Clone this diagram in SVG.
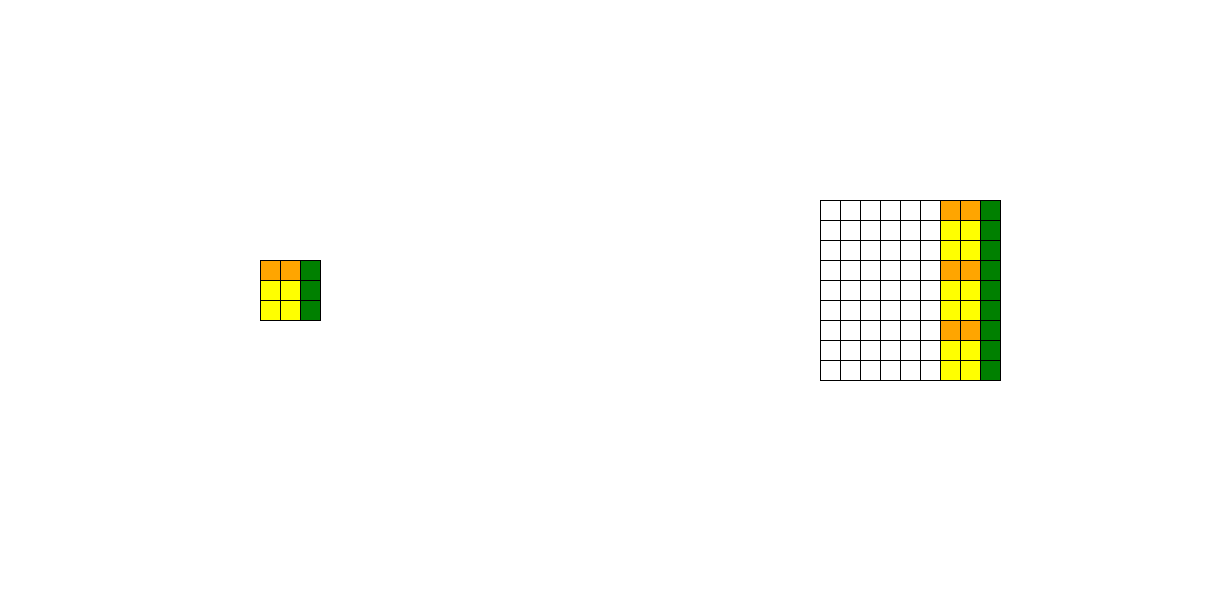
<svg xmlns="http://www.w3.org/2000/svg" width="1220" height="600" viewBox="0 0 1220 600">
<style>
rect.c{stroke:#000;stroke-width:1}
.w{fill:#fff}.o{fill:#ffa500}.y{fill:#ffff00}.g{fill:#008000}
</style>
<rect width="1220" height="600" fill="#fff"/>
<g id="small" transform="translate(260.5,260.5)">
<rect class="c o" x="0" y="0" width="20" height="20"/><rect class="c o" x="20" y="0" width="20" height="20"/><rect class="c g" x="40" y="0" width="20" height="20"/>
<rect class="c y" x="0" y="20" width="20" height="20"/><rect class="c y" x="20" y="20" width="20" height="20"/><rect class="c g" x="40" y="20" width="20" height="20"/>
<rect class="c y" x="0" y="40" width="20" height="20"/><rect class="c y" x="20" y="40" width="20" height="20"/><rect class="c g" x="40" y="40" width="20" height="20"/>
</g>
<g id="large" transform="translate(820.5,200.5)">
<g id="white">
<rect class="c w" x="0" y="0" width="20" height="20"/><rect class="c w" x="20" y="0" width="20" height="20"/><rect class="c w" x="40" y="0" width="20" height="20"/><rect class="c w" x="60" y="0" width="20" height="20"/><rect class="c w" x="80" y="0" width="20" height="20"/><rect class="c w" x="100" y="0" width="20" height="20"/>
<rect class="c w" x="0" y="20" width="20" height="20"/><rect class="c w" x="20" y="20" width="20" height="20"/><rect class="c w" x="40" y="20" width="20" height="20"/><rect class="c w" x="60" y="20" width="20" height="20"/><rect class="c w" x="80" y="20" width="20" height="20"/><rect class="c w" x="100" y="20" width="20" height="20"/>
<rect class="c w" x="0" y="40" width="20" height="20"/><rect class="c w" x="20" y="40" width="20" height="20"/><rect class="c w" x="40" y="40" width="20" height="20"/><rect class="c w" x="60" y="40" width="20" height="20"/><rect class="c w" x="80" y="40" width="20" height="20"/><rect class="c w" x="100" y="40" width="20" height="20"/>
<rect class="c w" x="0" y="60" width="20" height="20"/><rect class="c w" x="20" y="60" width="20" height="20"/><rect class="c w" x="40" y="60" width="20" height="20"/><rect class="c w" x="60" y="60" width="20" height="20"/><rect class="c w" x="80" y="60" width="20" height="20"/><rect class="c w" x="100" y="60" width="20" height="20"/>
<rect class="c w" x="0" y="80" width="20" height="20"/><rect class="c w" x="20" y="80" width="20" height="20"/><rect class="c w" x="40" y="80" width="20" height="20"/><rect class="c w" x="60" y="80" width="20" height="20"/><rect class="c w" x="80" y="80" width="20" height="20"/><rect class="c w" x="100" y="80" width="20" height="20"/>
<rect class="c w" x="0" y="100" width="20" height="20"/><rect class="c w" x="20" y="100" width="20" height="20"/><rect class="c w" x="40" y="100" width="20" height="20"/><rect class="c w" x="60" y="100" width="20" height="20"/><rect class="c w" x="80" y="100" width="20" height="20"/><rect class="c w" x="100" y="100" width="20" height="20"/>
<rect class="c w" x="0" y="120" width="20" height="20"/><rect class="c w" x="20" y="120" width="20" height="20"/><rect class="c w" x="40" y="120" width="20" height="20"/><rect class="c w" x="60" y="120" width="20" height="20"/><rect class="c w" x="80" y="120" width="20" height="20"/><rect class="c w" x="100" y="120" width="20" height="20"/>
<rect class="c w" x="0" y="140" width="20" height="20"/><rect class="c w" x="20" y="140" width="20" height="20"/><rect class="c w" x="40" y="140" width="20" height="20"/><rect class="c w" x="60" y="140" width="20" height="20"/><rect class="c w" x="80" y="140" width="20" height="20"/><rect class="c w" x="100" y="140" width="20" height="20"/>
<rect class="c w" x="0" y="160" width="20" height="20"/><rect class="c w" x="20" y="160" width="20" height="20"/><rect class="c w" x="40" y="160" width="20" height="20"/><rect class="c w" x="60" y="160" width="20" height="20"/><rect class="c w" x="80" y="160" width="20" height="20"/><rect class="c w" x="100" y="160" width="20" height="20"/>
</g>
<g id="colored">
<rect class="c o" x="120" y="0" width="20" height="20"/><rect class="c o" x="140" y="0" width="20" height="20"/><rect class="c g" x="160" y="0" width="20" height="20"/>
<rect class="c y" x="120" y="20" width="20" height="20"/><rect class="c y" x="140" y="20" width="20" height="20"/><rect class="c g" x="160" y="20" width="20" height="20"/>
<rect class="c y" x="120" y="40" width="20" height="20"/><rect class="c y" x="140" y="40" width="20" height="20"/><rect class="c g" x="160" y="40" width="20" height="20"/>
<rect class="c o" x="120" y="60" width="20" height="20"/><rect class="c o" x="140" y="60" width="20" height="20"/><rect class="c g" x="160" y="60" width="20" height="20"/>
<rect class="c y" x="120" y="80" width="20" height="20"/><rect class="c y" x="140" y="80" width="20" height="20"/><rect class="c g" x="160" y="80" width="20" height="20"/>
<rect class="c y" x="120" y="100" width="20" height="20"/><rect class="c y" x="140" y="100" width="20" height="20"/><rect class="c g" x="160" y="100" width="20" height="20"/>
<rect class="c o" x="120" y="120" width="20" height="20"/><rect class="c o" x="140" y="120" width="20" height="20"/><rect class="c g" x="160" y="120" width="20" height="20"/>
<rect class="c y" x="120" y="140" width="20" height="20"/><rect class="c y" x="140" y="140" width="20" height="20"/><rect class="c g" x="160" y="140" width="20" height="20"/>
<rect class="c y" x="120" y="160" width="20" height="20"/><rect class="c y" x="140" y="160" width="20" height="20"/><rect class="c g" x="160" y="160" width="20" height="20"/>
</g>
</g>
</svg>
